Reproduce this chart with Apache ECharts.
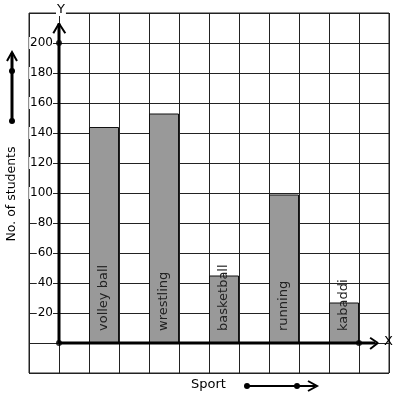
<!DOCTYPE html>
<html>
<head>
<meta charset="utf-8">
<script src="https://cdn.jsdelivr.net/npm/echarts@6/dist/echarts.min.js"></script>
<style>
  html, body { margin: 0; padding: 0; background: #fff; }
  #chart { width: 397px; height: 399px; }
</style>
</head>
<body>
<div id="chart"></div>
<script>
// data
const sports = ['volley ball', 'wrestling', 'basketball', 'running', 'kabaddi'];
const students = [144, 153, 45, 99, 27];
const yTicks = [20, 40, 60, 80, 100, 120, 140, 160, 180, 200];

const FONT = 'DejaVu Sans';
const chart = echarts.init(document.getElementById('chart'));

// each sport sits in every second column of the square grid
const barData = students.map((v, i) => ({ name: sports[i], value: [2 * i + 1.5, v] }));

chart.setOption({
  animation: false,
  grid: { left: 29, right: 8, top: 13, bottom: 26, show: true, borderColor: '#222', borderWidth: 1 },
  xAxis: {
    type: 'value', min: -1, max: 11, interval: 1,
    axisLine: { show: false }, axisTick: { show: false }, axisLabel: { show: false },
    splitLine: { show: true, lineStyle: { color: '#222', width: 1 } }
  },
  yAxis: {
    type: 'value', min: -20, max: 220, interval: 20, offset: -30,
    axisLine: { show: false }, axisTick: { show: false },
    axisLabel: {
      margin: 6, fontSize: 12, fontFamily: FONT, color: '#000',
      backgroundColor: '#fff', padding: [0, 0, 0, 1],
      formatter: v => (yTicks.indexOf(v) >= 0 ? String(v) : '')
    },
    splitLine: { show: true, lineStyle: { color: '#222', width: 1 } }
  },
  series: [
    {
      type: 'bar',
      barWidth: 30,
      data: barData,
      itemStyle: { color: '#999999', borderColor: '#111', borderWidth: 1 },
      label: {
        show: true, position: 'insideBottom', rotate: 90, distance: 12,
        align: 'left', verticalAlign: 'middle',
        formatter: '{b}', fontSize: 13, fontFamily: FONT, color: '#222'
      },
      z: 2
    },
    // axis lines
    {
      type: 'line', data: [[0, 0], [0, 213]], symbol: 'none',
      lineStyle: { color: '#000', width: 3 }, z: 5
    },
    {
      type: 'line', data: [[0, 0], [10.55, 0]], symbol: 'none',
      lineStyle: { color: '#000', width: 3 }, z: 5
    },
    // arrow heads
    {
      type: 'line', data: [[-0.19, 206.5], [0, 213], [0.21, 206.5]], symbol: 'none',
      lineStyle: { color: '#000', width: 2 }, z: 5
    },
    {
      type: 'line', data: [[10.37, 3.5], [10.63, 0], [10.37, -4]], symbol: 'none',
      lineStyle: { color: '#000', width: 2 }, z: 5
    },
    {
      type: 'scatter', data: [[0, 0], [0, 200], [10, 0]], symbolSize: 6,
      itemStyle: { color: '#000' }, z: 6
    }
  ],
  graphic: [
    { type: 'text', left: 56, top: 3, z: 10,
      style: { text: 'Y', font: '13px ' + FONT, fill: '#000', backgroundColor: '#fff', padding: [0, 1] } },
    { type: 'text', left: 384, top: 335, z: 10,
      style: { text: 'X', font: '13px ' + FONT, fill: '#000' } },
    { type: 'text', x: 12, y: 194, rotation: Math.PI / 2, z: 10,
      style: { text: 'No. of students', font: '12.5px ' + FONT, fill: '#000', align: 'center', verticalAlign: 'middle' } },
    { type: 'text', x: 191, y: 385, z: 10,
      style: { text: 'Sport', font: '13px ' + FONT, fill: '#000', align: 'left', verticalAlign: 'middle' } },
    // arrow beside the y name
    { type: 'line', shape: { x1: 12, y1: 121, x2: 12, y2: 53 }, style: { stroke: '#000', lineWidth: 3 } },
    { type: 'polyline', shape: { points: [[7, 61], [12, 52], [17, 61]] }, style: { stroke: '#000', lineWidth: 2, fill: null } },
    { type: 'circle', shape: { cx: 12, cy: 71, r: 3 }, style: { fill: '#000' } },
    { type: 'circle', shape: { cx: 12, cy: 121, r: 3 }, style: { fill: '#000' } },
    // arrow beside the x name
    { type: 'line', shape: { x1: 247, y1: 386, x2: 315, y2: 386 }, style: { stroke: '#000', lineWidth: 2 } },
    { type: 'polyline', shape: { points: [[308, 381], [317, 386], [308, 391]] }, style: { stroke: '#000', lineWidth: 2, fill: null } },
    { type: 'circle', shape: { cx: 247, cy: 386, r: 3 }, style: { fill: '#000' } },
    { type: 'circle', shape: { cx: 297, cy: 386, r: 3 }, style: { fill: '#000' } }
  ]
});
</script>
</body>
</html>
